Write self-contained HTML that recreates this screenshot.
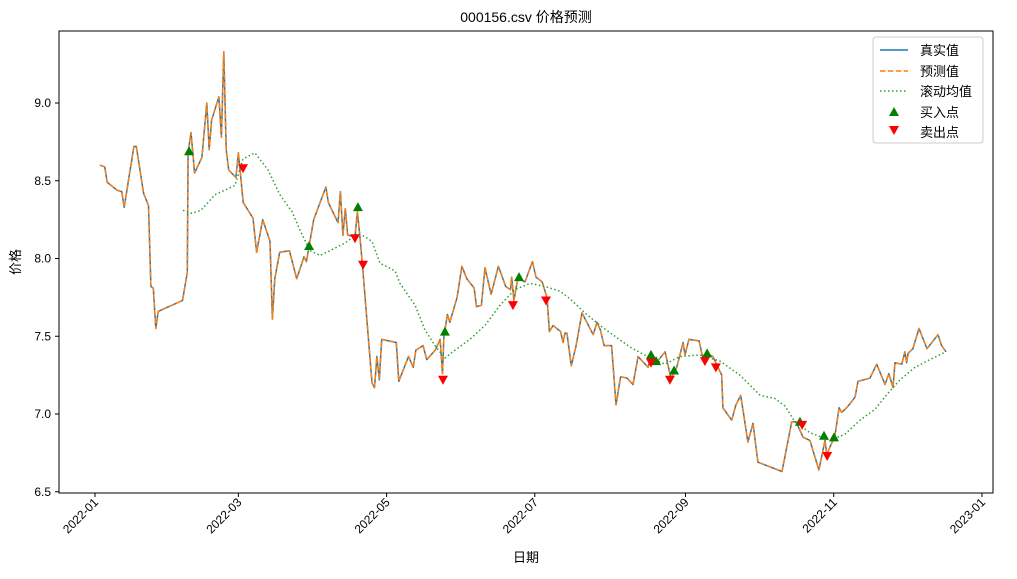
<!DOCTYPE html>
<html><head><meta charset="utf-8"><style>
body{margin:0;background:#fff}
svg text{font-family:"Liberation Sans","Noto Sans CJK SC",sans-serif;fill:#000}
</style></head><body>
<svg id="chart" width="1017" height="574" xmlns="http://www.w3.org/2000/svg">
<rect width="1017" height="574" fill="#fff"/>
<text x="526" y="22" font-size="14" text-anchor="middle">000156.csv 价格预测</text>
<g id="plot"></g>
<rect x="59" y="31" width="934" height="462" fill="none" stroke="#000" stroke-width="1"/>
<text x="526" y="562" font-size="13" text-anchor="middle">日期</text>
<text x="20" y="262" font-size="13" text-anchor="middle" transform="rotate(-90 20 262)">价格</text>
<g>
<rect x="873" y="37" width="110" height="106" fill="#fff" stroke="#ccc" rx="3"/>
<line x1="880" y1="50" x2="908" y2="50" stroke="#1f77b4" stroke-width="1.5"/>
<text x="920" y="55" font-size="13">真实值</text>
<line x1="880" y1="71" x2="908" y2="71" stroke="#ff7f0e" stroke-width="1.5" stroke-dasharray="5.5,2.4"/>
<text x="920" y="76" font-size="13">预测值</text>
<line x1="880" y1="91" x2="908" y2="91" stroke="#2ca02c" stroke-width="1.5" stroke-dasharray="1.5,2.5"/>
<text x="920" y="96" font-size="13">滚动均值</text>
<polygon points="894,107 899,116 889,116" fill="#008000"/>
<text x="920" y="117" font-size="13">买入点</text>
<polygon points="889,126 899,126 894,135" fill="#ff0000"/>
<text x="920" y="137" font-size="13">卖出点</text>
</g>
</svg>
<script>
const priceDays=[2,4,5,9,11,12,16,17,20,22,23,24,25,26,36,38,38.3,39.5,41,44,46,47,48,51,52,53,54,55,58,59,61,65,66.5,69,72,73,74,76,80,83,86,87,90,95,96,100,101,102,103,104,107,108,109,110,114,115,116,117,118,124,125,129,131,132,135,136.5,140,142,143,143.6,145,146,149,151,153,156,157,159,160.5,163,166,169,171,171.5,172.4,174,177,180,181.5,184,186,187,188.5,191.6,192.6,193.4,194.2,196,198,200.4,205,206.6,208,209.5,212.6,214.4,216.3,219,221.4,223.5,227.6,228.7,231,234.6,237,239.4,242,242.8,244.4,248.6,250,251.7,254.3,257.9,258.4,262,263.8,265.7,268.7,270.8,272.8,282.7,286.7,288.5,291.4,294.2,297.9,300.4,301.1,304.5,306.2,307.3,309.3,311.4,312.8,314,318.9,321.7,325.1,326.7,328.4,329.2,332,333.3,334,334.6,336.6,339.1,342.4,346.9,348.4,350.2];
const priceVals=[8.60,8.59,8.49,8.44,8.43,8.33,8.72,8.72,8.42,8.34,7.82,7.81,7.55,7.66,7.73,7.91,8.68,8.81,8.55,8.65,9.00,8.70,8.89,9.04,8.78,9.33,8.70,8.57,8.52,8.68,8.36,8.26,8.04,8.25,8.11,7.61,7.87,8.04,8.05,7.87,8.01,7.98,8.25,8.46,8.36,8.23,8.43,8.15,8.32,8.15,8.14,8.30,8.14,7.97,7.20,7.17,7.37,7.22,7.48,7.46,7.21,7.37,7.30,7.41,7.44,7.35,7.41,7.48,7.26,7.50,7.64,7.59,7.75,7.95,7.87,7.81,7.69,7.70,7.94,7.77,7.95,7.82,7.80,7.88,7.73,7.87,7.85,7.98,7.88,7.85,7.75,7.53,7.57,7.53,7.46,7.52,7.52,7.31,7.44,7.65,7.51,7.59,7.54,7.44,7.44,7.06,7.24,7.23,7.19,7.37,7.30,7.37,7.33,7.40,7.23,7.30,7.46,7.38,7.48,7.47,7.37,7.39,7.37,7.25,7.04,6.96,7.06,7.12,6.82,6.94,6.69,6.63,6.95,6.95,6.85,6.83,6.64,6.83,6.74,6.86,7.04,7.01,7.04,7.08,7.11,7.21,7.23,7.32,7.19,7.26,7.17,7.33,7.32,7.40,7.33,7.39,7.42,7.55,7.42,7.51,7.44,7.40];
const maDays=[36.2,39.9,43.6,49.4,57.6,60.9,65.8,71.2,76.1,81.1,84.4,88.5,92.6,96.7,102.9,108.2,111.1,114,117.3,123.5,125.5,131.7,135.8,139.9,144,148.1,154.3,160.5,166.7,172.8,179,185.2,191.4,195.5,201.6,207.8,214,220.2,228.4,234.6,240.7,249,257.2,265.4,273.7,279.8,284,288,294.2,302.5,308.6,314.8,321,327.2,331.3,337.4,343.6,350.2];
const maVals=[8.31,8.29,8.31,8.41,8.47,8.64,8.68,8.57,8.41,8.30,8.18,8.05,8.02,8.05,8.10,8.16,8.14,8.11,7.97,7.92,7.84,7.70,7.54,7.44,7.36,7.41,7.48,7.57,7.70,7.80,7.84,7.82,7.79,7.74,7.65,7.57,7.50,7.43,7.36,7.32,7.37,7.38,7.34,7.25,7.12,7.10,7.05,6.95,6.88,6.83,6.87,6.96,7.03,7.15,7.22,7.30,7.35,7.40];
const buyDays=[38.7,88.1,108.2,144,174.5,228.8,230.9,238.3,251.9,290.1,300,304.1];
const buyVals=[8.69,8.08,8.33,7.53,7.88,7.38,7.34,7.28,7.39,6.95,6.86,6.85];
const sellDays=[60.9,107,110.3,143.2,172,185.6,228.8,236.6,251,255.5,291,301.3];
const sellVals=[8.58,8.13,7.96,7.22,7.70,7.73,7.33,7.22,7.34,7.30,6.93,6.73];
const xTickLabels=["2022-01","2022-03","2022-05","2022-07","2022-09","2022-11","2023-01"];
const xTickDays=[0,59,120,181,243,304,365];
const yTickVals=[6.5,7.0,7.5,8.0,8.5,9.0];

const NS="http://www.w3.org/2000/svg";
const X=d=>95+d*2.43;
const Y=v=>103+(9-v)*155.5;
const g=document.getElementById('plot');
function mk(t,a){const e=document.createElementNS(NS,t);for(const k in a)e.setAttribute(k,a[k]);g.appendChild(e);return e;}
xTickDays.forEach((d,i)=>{
  const x=X(d);
  const t=mk('line',{x1:x,y1:493,x2:x,y2:497,stroke:'#000'});
  
  
  const l=mk('text',{x:x+4,y:503,'font-size':12,'text-anchor':'end',transform:`rotate(-45 ${x+4} 503)`});
  l.textContent=xTickLabels[i];
  
  
});
yTickVals.forEach(v=>{
  const y=Y(v);
  const t=mk('line',{x1:55,y1:y,x2:59,y2:y,stroke:'#000'});
  
  
  const l=mk('text',{x:51,y:y+4,'font-size':12,'text-anchor':'end'});
  l.textContent=v.toFixed(1);
  
  
});
const pts=(ds,vs)=>ds.map((d,i)=>X(d).toFixed(1)+','+Y(vs[i]).toFixed(1)).join(' ');
const a=mk('polyline',{points:pts(priceDays,priceVals),fill:'none',stroke:'#1f77b4','stroke-width':1.5,'stroke-linejoin':'round'});


const p=mk('polyline',{points:pts(priceDays,priceVals),fill:'none',stroke:'#ff7f0e','stroke-width':1.5,'stroke-dasharray':'5.5,2.4','stroke-linejoin':'round'});


const m=mk('polyline',{points:pts(maDays,maVals),fill:'none',stroke:'#2ca02c','stroke-width':1.5,'stroke-dasharray':'1.5,2.5'});


buyDays.forEach((d,i)=>{
  const x=X(d),y=Y(buyVals[i]);
  const e=mk('polygon',{points:`${x},${y-5} ${x+5},${y+4} ${x-5},${y+4}`,fill:'#008000'});
  
  
});
sellDays.forEach((d,i)=>{
  const x=X(d),y=Y(sellVals[i]);
  const e=mk('polygon',{points:`${x-5},${y-4} ${x+5},${y-4} ${x},${y+5}`,fill:'#ff0000'});
  
  
});
</script>
</body></html>
